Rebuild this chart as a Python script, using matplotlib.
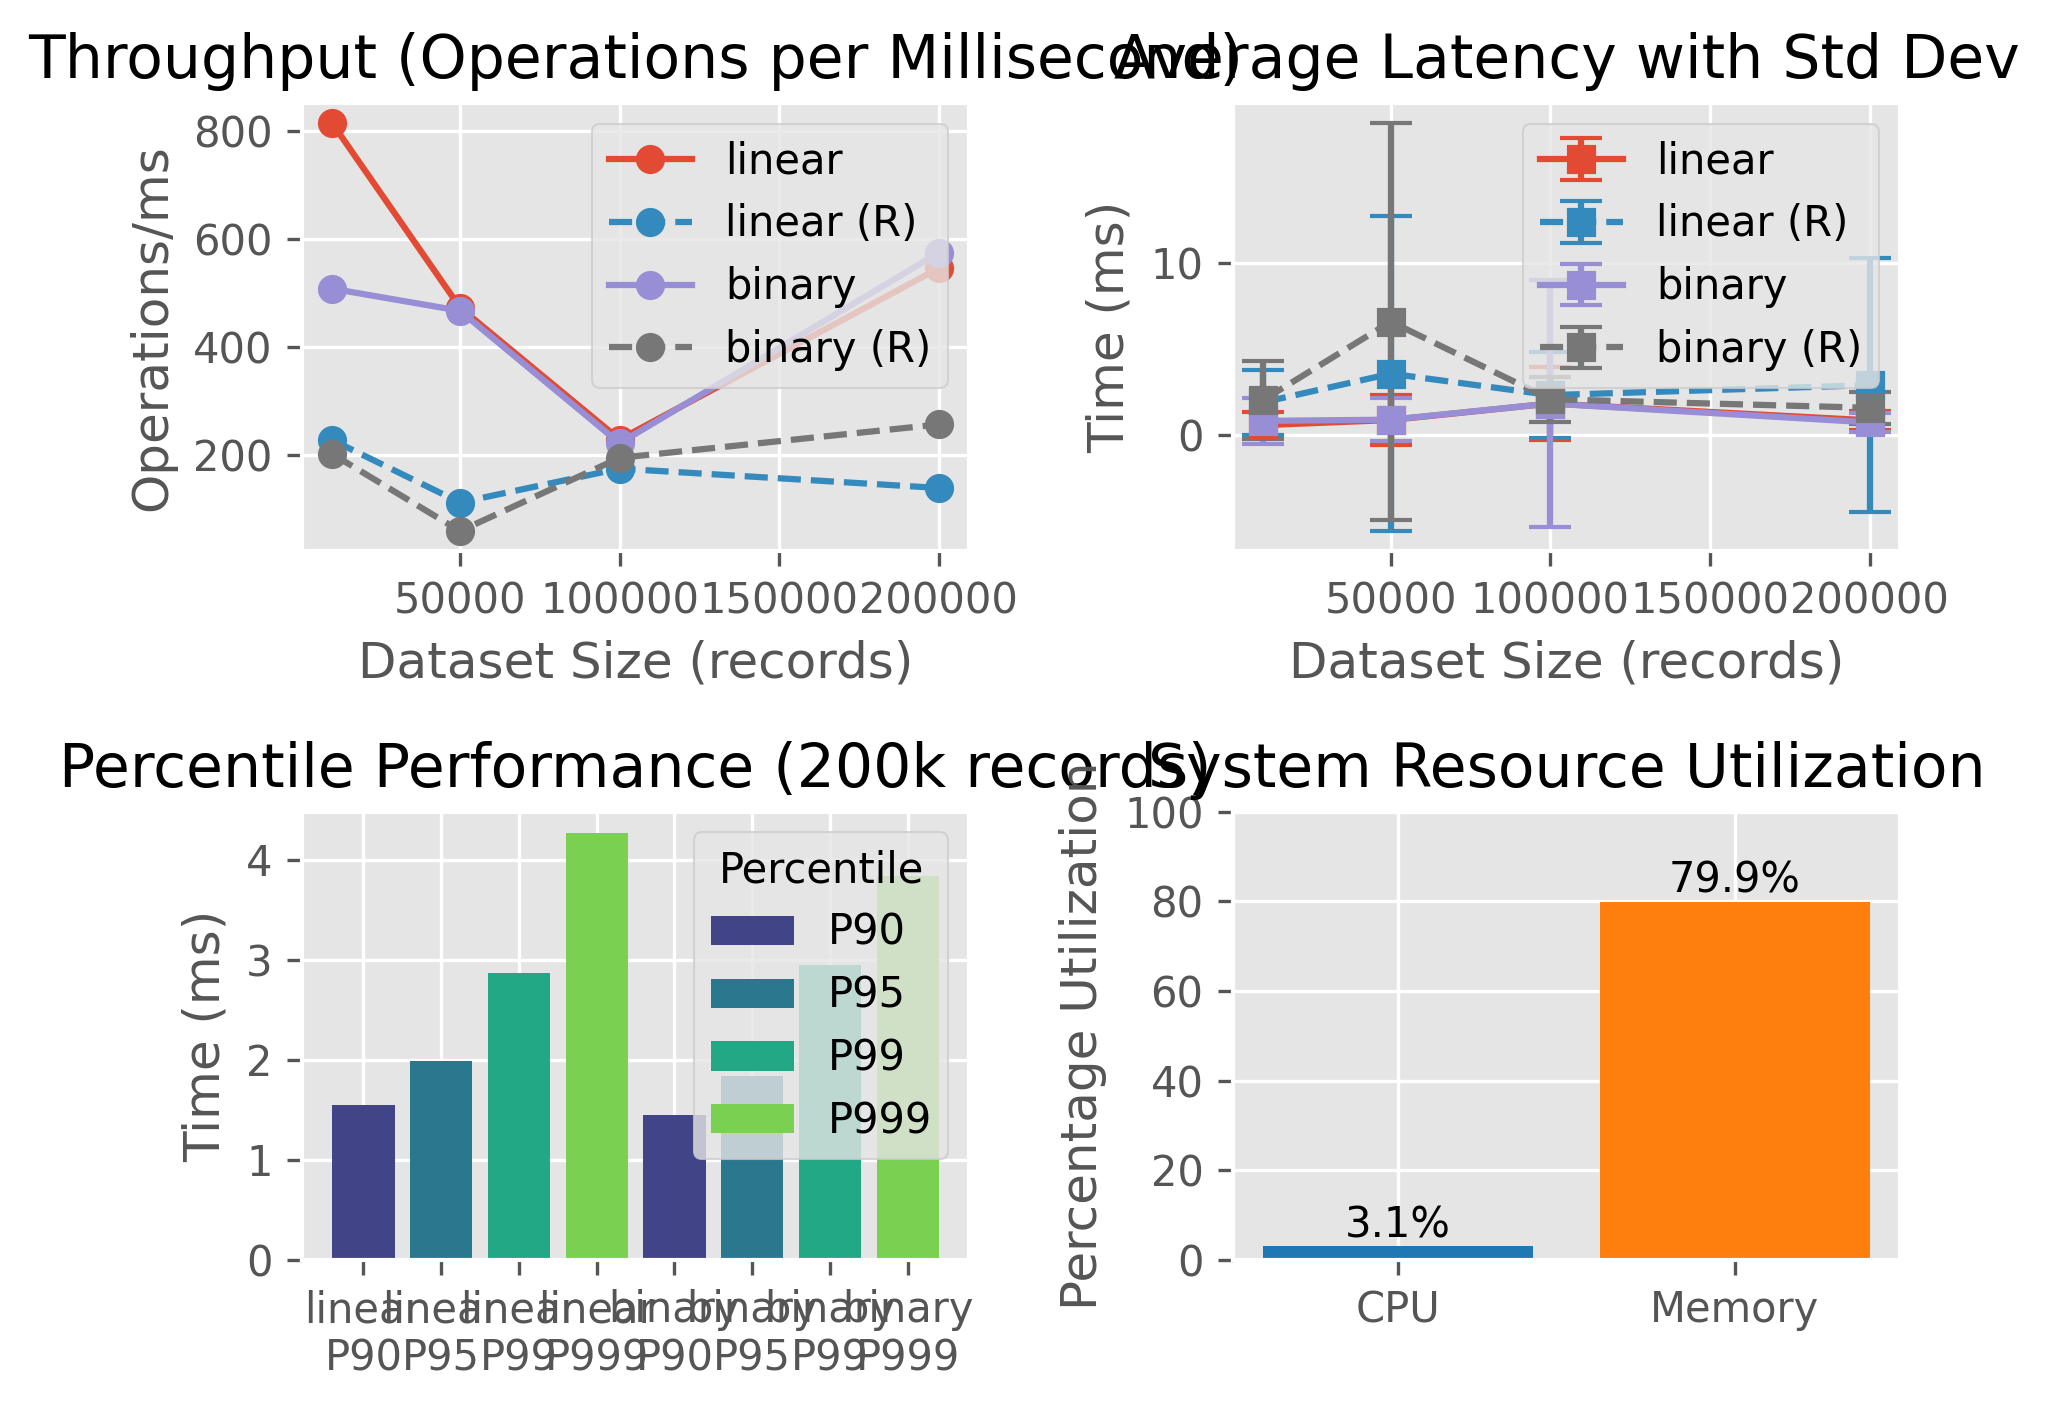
import matplotlib
matplotlib.use("Agg")
import matplotlib.pyplot as plt

plt.style.use("ggplot")

# dataset sizes
sizes = [10000, 50000, 100000, 200000]

# throughput (ops/ms)
thr_linear = [815, 473, 228, 546]
thr_linear_r = [227, 111, 174, 138]
thr_binary = [508, 467, 221, 575]
thr_binary_r = [201, 58, 194, 256]

# average latency (ms) and std dev
lat_linear = [0.57, 0.87, 1.83, 0.85]
std_linear = [0.78, 1.45, 2.12, 0.55]
lat_linear_r = [1.9, 3.57, 2.32, 2.9]
std_linear_r = [1.9, 9.17, 2.5, 7.4]
lat_binary = [0.82, 0.89, 1.83, 0.73]
std_binary = [1.35, 1.24, 7.2, 0.56]
lat_binary_r = [2.03, 6.6, 2.08, 1.58]
std_binary_r = [2.27, 11.55, 1.3, 0.93]

# percentiles at 200k records
pct_labels = ["linear\nP90", "linear\nP95", "linear\nP99", "linear\nP999",
              "binary\nP90", "binary\nP95", "binary\nP99", "binary\nP999"]
pct_values = [1.55, 1.99, 2.87, 4.27, 1.45, 1.84, 2.95, 3.84]
pct_names = ["P90", "P95", "P99", "P999"]
pct_colors = ["#414487", "#2a788e", "#22a884", "#7ad151"]

# resources
res_labels = ["CPU", "Memory"]
res_values = [3.1, 79.9]
res_colors = ["#1f77b4", "#ff7f0e"]

fig, axs = plt.subplots(2, 2, figsize=(2048 / 300, 1411 / 300), dpi=300)
fig.subplots_adjust(left=302 / 2048, right=1900 / 2048, top=1 - 103 / 1411,
                    bottom=1 - 1260 / 1411, wspace=0.395, hspace=0.58)

# Throughput
ax = axs[0, 0]
ax.plot(sizes, thr_linear, "o-", label="linear")
ax.plot(sizes, thr_linear_r, "o--", label="linear (R)")
ax.plot(sizes, thr_binary, "o-", label="binary")
ax.plot(sizes, thr_binary_r, "o--", label="binary (R)")
ax.set_title("Throughput (Operations per Millisecond)")
ax.set_xlabel("Dataset Size (records)")
ax.set_ylabel("Operations/ms")
ax.legend()

# Latency
ax = axs[0, 1]
ax.errorbar(sizes, lat_linear, yerr=std_linear, fmt="s-", capsize=5, label="linear")
ax.errorbar(sizes, lat_linear_r, yerr=std_linear_r, fmt="s--", capsize=5, label="linear (R)")
ax.errorbar(sizes, lat_binary, yerr=std_binary, fmt="s-", capsize=5, label="binary")
ax.errorbar(sizes, lat_binary_r, yerr=std_binary_r, fmt="s--", capsize=5, label="binary (R)")
ax.set_title("Average Latency with Std Dev")
ax.set_xlabel("Dataset Size (records)")
ax.set_ylabel("Time (ms)")
ax.legend()

# Percentiles
ax = axs[1, 0]
for i, (lbl, v) in enumerate(zip(pct_labels, pct_values)):
    k = i % 4
    ax.bar(lbl, v, color=pct_colors[k], label=pct_names[k] if i < 4 else None)
ax.set_title("Percentile Performance (200k records)")
ax.set_ylabel("Time (ms)")
ax.legend(title="Percentile")

# Resources
ax = axs[1, 1]
bars = ax.bar(res_labels, res_values, color=res_colors)
for b, v in zip(bars, res_values):
    ax.text(b.get_x() + b.get_width() / 2, b.get_height(), f"{v:.1f}%",
            ha="center", va="bottom")
ax.set_ylim(0, 100)
ax.set_title("System Resource Utilization")
ax.set_ylabel("Percentage Utilization")

fig.savefig("out.png", dpi=300)
